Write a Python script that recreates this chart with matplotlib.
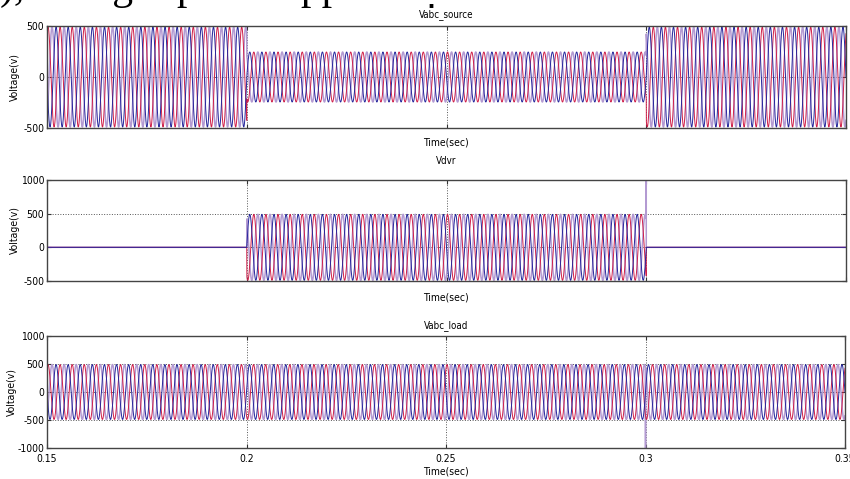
import matplotlib
matplotlib.use("Agg")
import matplotlib.pyplot as plt
from matplotlib import font_manager as fm
import numpy as np

# Simulation segments: fault window from 0.2 s to 0.3 s
seg_edges = [0.15, 0.2, 0.3, 0.35]
source_amp = [490, 245, 490]   # sagged supply voltage
dvr_amp = [0, 490, 0]          # injected compensating voltage
load_amp = [490, 490, 490]     # restored load voltage
wave_freq = 330.0              # Hz, as plotted
phase_deg = [120, -120, 0]
phase_colors = ['#b39ad2', '#cf1f4a', '#26269c']
phase_widths = [1.1, 0.7, 0.7]

# switching transients at the end of the fault
dvr_spike = [0.3, 1100]
load_spike = [0.3, -1050]

x_ticks = [0.15, 0.2, 0.25, 0.3, 0.35]
x_ticklabels = ['0.15', '0.2', '0.25', '0.3', '0.35']

panels = [
    ('Vabc_source', source_amp, (-500, 500), [-500, 0, 500], None),
    ('Vdvr', dvr_amp, (-500, 1000), [-500, 0, 500, 1000], dvr_spike),
    ('Vabc_load', load_amp, (-1000, 1000), [-1000, -500, 0, 500, 1000], load_spike),
]

t = np.linspace(seg_edges[0], seg_edges[-1], 30001)


def envelope(amps):
    env = np.zeros_like(t)
    for k, a in enumerate(amps):
        mask = (t >= seg_edges[k]) & (t <= seg_edges[k + 1])
        env[mask] = a
    return env


# narrow sans face if one is installed
narrow = [f for f in fm.fontManager.ttflist
          if ('Narrow' in f.name or 'Condensed' in f.name
              or f.stretch in ('condensed', 'semi-condensed'))
          and f.weight in (400, 'normal', 'regular') and f.style == 'normal'
          and 'Serif' not in f.name and 'Mono' not in f.name]
if narrow:
    plt.rcParams['font.family'] = [narrow[0].name, 'DejaVu Sans']
    plt.rcParams['font.stretch'] = narrow[0].stretch
    fs = 7.5
else:
    plt.rcParams['font.family'] = ['Liberation Sans', 'DejaVu Sans']
    fs = 7.0
plt.rcParams['axes.unicode_minus'] = False

fig = plt.figure(figsize=(8.5, 4.79), dpi=100)
W, H = 850.0, 479.0

# axes boxes in pixels: left, top, right, bottom
boxes = [(47, 26, 846, 128), (47, 180, 846, 281), (47, 336, 845, 448)]
titles_y = [15, 161, 326]
xlabel_y = [142, 297, 472]
ylabel_x = [15, 15, 12]

for i, (title, amps, ylim, yticks, spike) in enumerate(panels):
    l, tp, r, b = boxes[i]
    ax = fig.add_axes([l / W, 1 - b / H, (r - l) / W, (b - tp) / H])
    env = envelope(amps)
    for p, c, w in zip(phase_deg, phase_colors, phase_widths):
        y = env * np.sin(2 * np.pi * wave_freq * t + np.radians(p))
        if spike is not None and c == phase_colors[0]:
            k = np.argmin(np.abs(t - spike[0]))
            y = y.copy()
            y[k] = spike[1]
        ax.plot(t, y, color=c, lw=w)
    ax.set_xlim(seg_edges[0], seg_edges[-1])
    ax.set_ylim(*ylim)
    ax.set_xticks(x_ticks)
    ax.set_yticks(yticks)
    ax.grid(True, linestyle=':', color='#555555', lw=0.7)
    ax.tick_params(direction='in', length=3, width=0.8, labelsize=fs,
                   top=True, right=True, pad=2, color='#333333')
    ax.tick_params(axis='x', pad=4)
    if i < 2:
        ax.set_xticklabels([])
    else:
        ax.set_xticklabels(x_ticklabels)
    for s in ax.spines.values():
        s.set_color('#444444')
        s.set_linewidth(1.0)
    fig.text(ylabel_x[i] / W, 1 - (tp + b) / 2 / H, 'Voltage(v)', fontsize=fs,
             rotation=90, ha='center', va='center')
    fig.text(446 / W, 1 - titles_y[i] / H, title, fontsize=fs - 0.5,
             ha='center', va='center')
    fig.text(446 / W, 1 - xlabel_y[i] / H, 'Time(sec)', fontsize=fs,
             ha='center', va='center')

# bullet above the first title
fig.text(431 / W, 1 - 5 / H, '\u25aa', fontsize=6, ha='center', va='center')

# caption line of the surrounding document, clipped at the top edge
fig.text(0.0, 1 + 1 / H, '), a single-phase appl', fontsize=30,
         family=['Liberation Serif', 'DejaVu Serif'], ha='left', va='baseline')

fig.savefig('out.png', dpi=100)
